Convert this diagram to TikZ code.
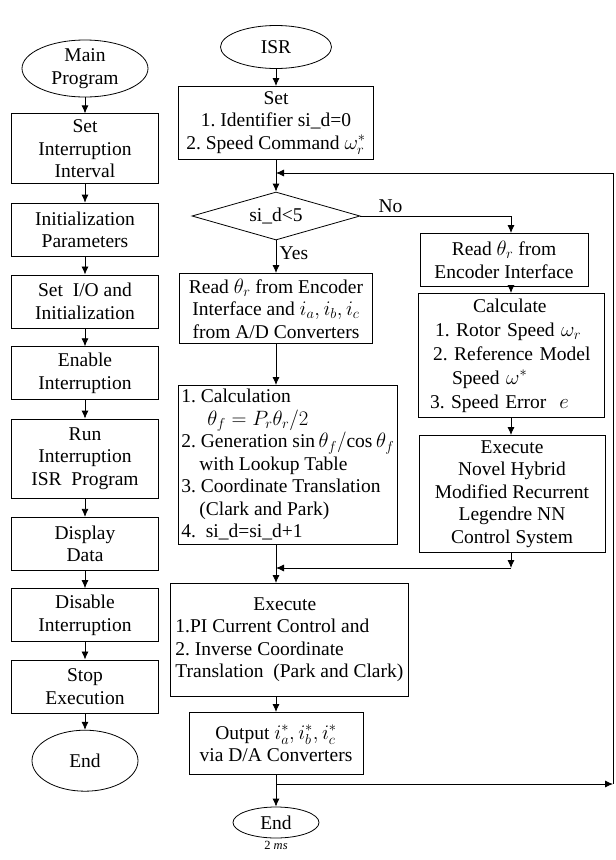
\documentclass[tikz,border=0pt]{standalone}
\usepackage{fontspec}
\setmainfont{Liberation Serif}
\usetikzlibrary{positioning,shapes.geometric,arrows.meta}

\begin{document}
\frenchspacing
\begin{tikzpicture}[x=1pt, y=-1pt, line width=0.8pt,
    font=\fontsize{19.5}{22.5}\selectfont,
    blk/.style={draw, rectangle, align=center, inner sep=2pt},
    lblk/.style={blk, minimum width=147pt, minimum height=53pt},
    oval/.style={draw, ellipse, align=center, inner sep=0pt},
    decision/.style={draw, diamond, aspect=3.5, inner sep=0pt, minimum width=168pt, minimum height=48pt},
    arr/.style={-{Latex[length=8pt,width=7pt]}},
  ]
  \useasboundingbox (0,0) rectangle (616,860);

  % main program (left column)
  \node[oval, minimum width=126pt, minimum height=57pt] (mainprog) at (85,68.5) {Main\\Program};
  \node[lblk, below=16pt of mainprog, minimum height=70pt] (setint) {Set\\Interruption\\Interval};
  \node[lblk, below=18.5pt of setint] (initpar) {Initialization\\Parameters};
  \node[lblk, below=18pt of initpar] (setio) {Set~ I/O and\\Initialization};
  \node[lblk, below=18pt of setio] (enable) {Enable\\Interruption};
  \node[lblk, below=18.5pt of enable, minimum height=79pt] (runisr) {Run\\Interruption\\ISR~ Program};
  \node[lblk, below=18.5pt of runisr] (display) {Display\\Data};
  \node[lblk, below=17.5pt of display] (disable) {Disable\\Interruption};
  \node[lblk, below=17.5pt of disable] (stopexec) {Stop\\Execution};
  \node[oval, below=16.5pt of stopexec, minimum width=106pt, minimum height=61pt] (endmain) {End};

  \draw[arr] (mainprog) -- (setint);
  \draw[arr] (setint) -- (initpar);
  \draw[arr] (initpar) -- (setio);
  \draw[arr] (setio) -- (enable);
  \draw[arr] (enable) -- (runisr);
  \draw[arr] (runisr) -- (display);
  \draw[arr] (display) -- (disable);
  \draw[arr] (disable) -- (stopexec);
  \draw[arr] (stopexec) -- (endmain);

  % ISR (middle column)
  \node[oval, minimum width=111pt, minimum height=43pt] (isr) at (276,47) {ISR};
  \node[blk, anchor=north, minimum width=195pt, minimum height=73pt] (setisr) at (276,86)
    {Set\\1. Identifier si\_d=0\\2. Speed Command $\omega_r^*$};
  \node[decision] (test) at (276,216) {si\_d<5};
  \node[blk, anchor=north, minimum width=193pt, minimum height=70pt] (readenc) at (276,273)
    {Read $\theta_r$ from Encoder\\Interface and $i_a, i_b, i_c$\\from A/D Converters};
  \node[blk, anchor=north west, align=left, minimum width=217pt, inner xsep=3pt, inner ysep=0pt,
        minimum height=159pt] (calc) at (178,385)
    {1. Calculation\\
     \hspace*{26pt}$\theta_f = P_r\theta_r/2$\\
     2. Generation $\sin\theta_f/\!\cos\theta_f$\\
     \hspace*{18pt}with Lookup Table\\
     3. Coordinate Translation\\
     \hspace*{18pt}(Clark and Park)\\
     4.~ si\_d=si\_d+1};
  \node[blk, anchor=north west, align=left, minimum width=238pt,
        minimum height=113pt] (exec) at (170,583)
    {\hspace*{78pt}Execute\\1.PI Current Control and\\2. Inverse Coordinate\\Translation~ (Park and Clark)};
  \node[blk, anchor=north, minimum width=174pt, minimum height=62pt] (output) at (276,712)
    {Output $i_a^*, i_b^*, i_c^*$\\via D/A Converters};
  \node[oval, minimum width=86pt, minimum height=31pt] (endisr) at (276,822.5) {End};
  \node[font=\fontsize{12.5}{14}\selectfont, inner sep=1pt, below=1pt of endisr] (period) {2 \textit{ms}};

  % speed loop (right column)
  \node[blk, anchor=north, minimum width=168pt, minimum height=53pt] (readr) at (504,233)
    {Read $\theta_r$ from\\Encoder Interface};
  \node[blk, anchor=north, align=left, text width=166pt, inner xsep=10pt, inner ysep=1pt,
        font=\fontsize{19.5}{24}\selectfont, minimum height=124pt] (calcr) at (511,293)
    {\hspace*{45pt}Calculate\\
     \hspace*{7pt}1. Rotor Speed $\omega_r$\\
     \hspace*{5pt}2. Reference Model\\
     \hspace*{24pt}Speed $\omega^{*}$\\
     \hspace*{2pt}3. Speed Error~ $e$};
  \node[blk, anchor=north, minimum width=186pt, minimum height=117pt] (nnctrl) at (512,435)
    {Execute\\Novel Hybrid\\Modified Recurrent\\Legendre NN\\Control System};

  % helpers for the joins and the 2 ms loop
  \coordinate (loopin) at (276,173);
  \coordinate (mergein) at (276,568);
  \coordinate (mergeright) at (511,568);
  \coordinate (loopout) at (276,784);
  \coordinate (loopcorner) at (613,784);
  \coordinate (looptop) at (613,173);

  \draw[arr] (isr) -- (setisr);
  \draw (setisr.south) -- (loopin);
  \draw[arr] (loopin) -- (test.north);
  \draw[arr] (test.south) -- node[right, pos=0.4] {Yes} (readenc.north);
  \draw[arr] (readenc.south) -- (readenc.south |- calc.north);
  \draw (calc.south -| mergein) -- (mergein);
  \draw[arr] (mergein) -- (mergein |- exec.north);
  \draw[arr] (exec.south -| output) -- (output.north);
  \draw (output.south) -- (loopout);
  \draw[arr] (loopout) -- (endisr.north);

  % No branch
  \draw[arr] (test.east) -| node[above, pos=0.1] {No} (calcr.north |- readr.north);
  \draw[arr] (calcr.north |- readr.south) -- (calcr.north);
  \draw[arr] (calcr.south) -- (calcr.south |- nnctrl.north);
  \draw[arr] (nnctrl.south -| calcr) -- (mergeright);
  \draw[arr] (mergeright) -- (mergein);

  % back to the start of the ISR
  \draw[arr] (loopout) -- (loopcorner);
  \draw[arr] (loopcorner) -- (looptop) -- (loopin);
\end{tikzpicture}
\end{document}
